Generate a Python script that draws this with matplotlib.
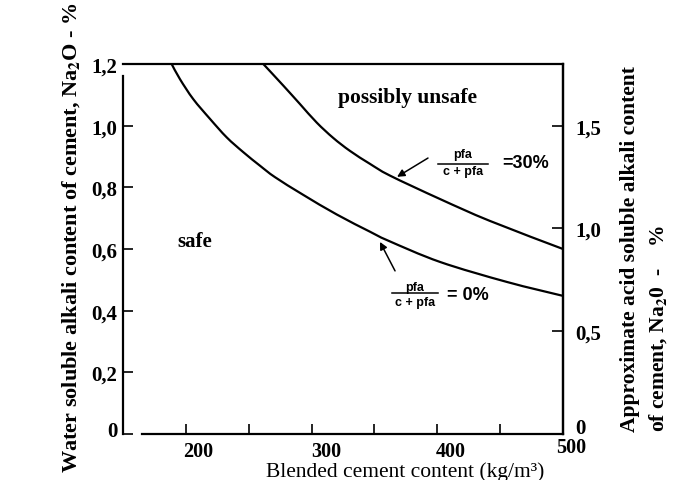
import matplotlib
matplotlib.use("Agg")
import matplotlib.pyplot as plt
from matplotlib.transforms import ScaledTranslation
from matplotlib.path import Path
from matplotlib.patches import PathPatch

# ---- data ----
x_pfa0 = [188.7, 195.3, 205.9, 219.2, 232.5, 245.7, 259.0, 270.9, 293.2, 320.0,
          346.5, 361.0, 402.2, 455.5, 500.0]
y_pfa0 = [1.200, 1.151, 1.086, 1.022, 0.962, 0.914, 0.870, 0.833, 0.776, 0.712,
          0.656, 0.627, 0.558, 0.493, 0.448]

x_pfa30 = [261.6, 277.5, 290.8, 304.1, 317.3, 330.6, 346.5, 362.4, 402.2,
           441.9, 500.0]
y_pfa30 = [1.200, 1.130, 1.070, 1.010, 0.960, 0.918, 0.876, 0.838, 0.762,
           0.691, 0.600]

x_ticks = [200, 250, 300, 350, 400, 450, 500]
x_tick_labels = ["200", "", "300", "", "400", "", "500"]
y_left_ticks = [0, 0.2, 0.4, 0.6, 0.8, 1.0, 1.2]
y_left_labels = ["0", "0,2", "0,4", "0,6", "0,8", "1,0", "1,2"]
y_right_ticks = [0, 0.5, 1.0, 1.5]
y_right_labels = ["0", "0,5", "1,0", "1,5"]

SERIF = ["Liberation Serif", "DejaVu Serif"]
SANS = ["Liberation Sans", "DejaVu Sans"]
plt.rcParams["mathtext.fontset"] = "stix"


def smooth_path(xs, ys):
    """Catmull-Rom curve through the read points, drawn as cubic Bezier path."""
    pts = list(zip(xs, ys))
    n = len(pts)
    verts = [pts[0]]
    codes = [Path.MOVETO]
    for i in range(n - 1):
        p0 = pts[i - 1] if i > 0 else pts[i]
        p1 = pts[i]
        p2 = pts[i + 1]
        p3 = pts[i + 2] if i + 2 < n else pts[i + 1]
        c1 = (p1[0] + (p2[0] - p0[0]) / 6, p1[1] + (p2[1] - p0[1]) / 6)
        c2 = (p2[0] - (p3[0] - p1[0]) / 6, p2[1] - (p3[1] - p1[1]) / 6)
        verts += [c1, c2, p2]
        codes += [Path.CURVE4] * 3
    return Path(verts, codes)


fig = plt.figure(figsize=(6.9, 4.81), dpi=100)
ax = fig.add_axes([123 / 690, 1 - 435 / 481, 440 / 690, 370 / 481])
ax.set_xlim(150, 500)
ax.set_ylim(0, 1.2)

lw = 1.6
for xs, ys in [(x_pfa0, y_pfa0), (x_pfa30, y_pfa30)]:
    ax.add_patch(PathPatch(smooth_path(xs, ys), fill=False, edgecolor="black",
                           lw=lw, capstyle="butt", clip_on=True))

for s in ax.spines.values():
    s.set_linewidth(1.6)
ax.spines["bottom"].set_bounds(165, 500)
ax.spines["left"].set_bounds(0, 1.16)

ax.set_xticks(x_ticks)
ax.set_xticklabels(x_tick_labels, fontfamily=SERIF, fontweight="bold", fontsize=14.5)
ax.set_yticks(y_left_ticks)
ax.set_yticklabels(y_left_labels, fontfamily=SERIF, fontweight="bold", fontsize=15)
ax.tick_params(axis="x", direction="in", length=7, width=1.2, pad=5)
ax.tick_params(axis="y", direction="in", length=7, width=1.2, pad=4)


def shift(lbl, dx, dy):
    lbl.set_transform(lbl.get_transform() +
                      ScaledTranslation(dx / 100, dy / 100, fig.dpi_scale_trans))


# shift x tick labels as in the printed figure
offsets = {"200": (12, 0), "300": (15, 0), "400": (13, 0), "500": (8, 4)}
for lbl, txt in zip(ax.get_xticklabels(), x_tick_labels):
    if txt in offsets:
        shift(lbl, *offsets[txt])
shift(ax.get_yticklabels()[0], 0, 5)

ax2 = ax.twinx()
ax2.set_ylim(0, 1.8)
ax2.set_yticks(y_right_ticks)
ax2.set_yticklabels(y_right_labels, fontfamily=SERIF, fontweight="bold", fontsize=15)
ax2.tick_params(axis="y", direction="in", length=8, width=1.2, pad=9)
for s in ax2.spines.values():
    s.set_visible(False)
ax2.spines["right"].set_visible(True)
ax2.spines["right"].set_linewidth(1.6)
shift(ax2.get_yticklabels()[0], 0, 8)

# region labels
ax.text(376.7, 1.093, "possibly unsafe", fontfamily=SERIF, fontweight="bold",
        fontsize=15.5, ha="center", va="center")
ax.text(207.3, 0.626, "safe", fontfamily=SERIF, fontweight="bold",
        fontsize=15, ha="center", va="center")

# arrows
arrow = dict(arrowstyle="-|>", color="black", lw=1.1, mutation_scale=11,
             shrinkA=0, shrinkB=0)
ax.annotate("", xy=(368.0, 0.834), xytext=(392.6, 0.895), arrowprops=arrow)
ax.annotate("", xy=(354.4, 0.623), xytext=(366.4, 0.529), arrowprops=arrow)


# fraction labels
def fraction(xc, y_num, y_bar, y_den, x0, x1, xr, yr, rhs):
    ax.text(xc, y_num, "pfa", fontfamily=SANS, fontweight="bold", fontsize=9,
            ha="center", va="center")
    ax.plot([x0, x1], [y_bar, y_bar], color="black", lw=1.1)
    ax.text(xc, y_den, "c + pfa", fontfamily=SANS, fontweight="bold", fontsize=9,
            ha="center", va="center")
    ax.text(xr, yr, rhs, fontfamily=SANS, fontweight="bold", fontsize=13,
            ha="left", va="center")


fraction(420.5, 0.908, 0.876, 0.852, 400.6, 440.4, 451.5, 0.880, "=30%")
fraction(382.3, 0.478, 0.457, 0.428, 364.0, 400.6, 407.5, 0.452, "= 0%")

# axis titles
fig.text(405 / 690, 1 - 477.5 / 481, "Blended cement content (kg/m³)",
         fontfamily=SERIF, fontsize=15.5, ha="center", va="baseline")
fig.text(71 / 690, 1 - 238 / 481,
         r"Water soluble alkali content of cement, Na$_\mathbf{2}$O - %",
         fontfamily=SERIF, fontweight="bold", fontsize=16, rotation=90,
         ha="center", va="center")
fig.text(630 / 690, 1 - 432 / 481, "Approximate acid soluble alkali content",
         fontfamily=SERIF, fontweight="bold", fontsize=15.5, rotation=90,
         ha="center", va="bottom")
fig.text(658 / 690, 1 - 432 / 481, r"of cement, Na$_\mathbf{2}$0  -    %",
         fontfamily=SERIF, fontweight="bold", fontsize=15.5, rotation=90,
         ha="center", va="bottom")

fig.savefig("out.png", dpi=100)
